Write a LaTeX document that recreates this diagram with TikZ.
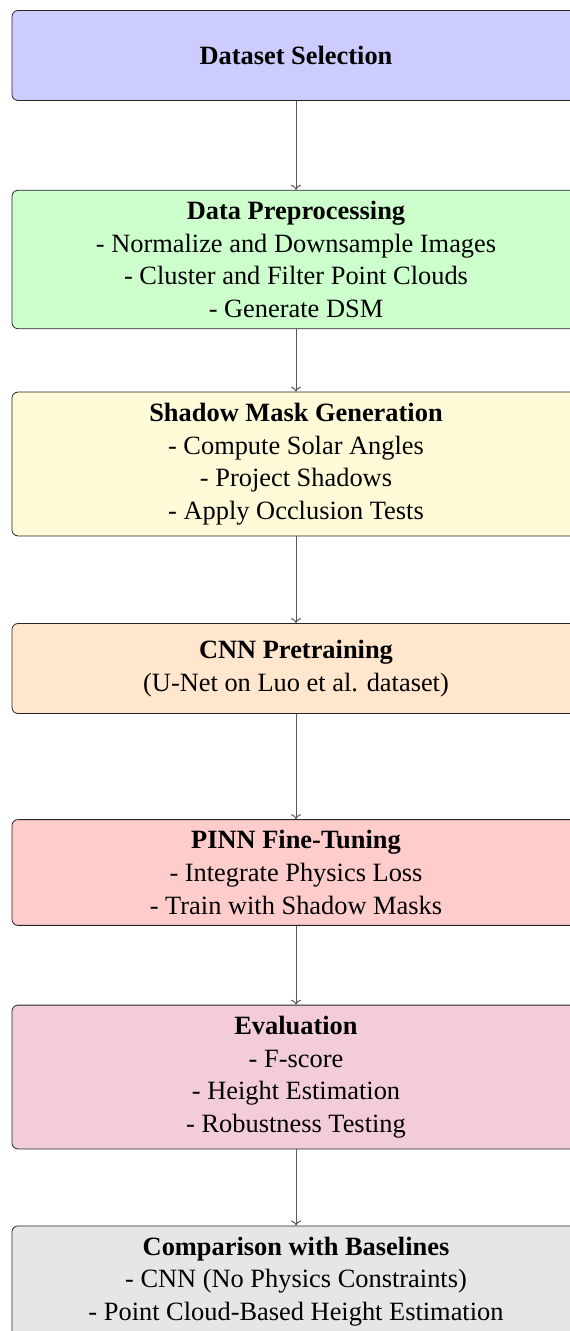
\documentclass[tikz,border=0pt]{standalone}
\usepackage{fontspec}
\setmainfont{Liberation Serif}
\usetikzlibrary{arrows.meta}
\definecolor{cBlue}{RGB}{204,204,255}
\definecolor{cGreen}{RGB}{204,255,204}
\definecolor{cYellow}{RGB}{255,250,216}
\definecolor{cOrange}{RGB}{255,230,204}
\definecolor{cRed}{RGB}{255,204,204}
\definecolor{cPurple}{RGB}{242,204,217}
\definecolor{cGray}{RGB}{230,230,230}
\definecolor{lineGray}{RGB}{90,90,90}
\tikzset{
  stagebox/.style={draw=black!85, rounded corners=3pt, rectangle, minimum width=284pt,
    align=center, font=\fontsize{13.2pt}{16.3pt}\selectfont, minimum height=45pt, inner sep=5.5pt},
  flowarrow/.style={draw=lineGray, -{To[length=2.5pt,width=5pt]}, line width=0.5pt}
}
\begin{document}
\begin{tikzpicture}[x=0.5pt,y=-0.5pt]
\useasboundingbox (0,0) rectangle (569,1331);
\node[stagebox, fill=cBlue] (ds) at (296,55.5) {\textbf{Dataset Selection}};
\node[stagebox, fill=cGreen] (dp) at (296,259.5) {\textbf{Data Preprocessing}\\- Normalize and Downsample Images\\- Cluster and Filter Point Clouds\\- Generate DSM};
\node[stagebox, fill=cYellow] (sm) at (296,464) {\textbf{Shadow Mask Generation}\\- Compute Solar Angles\\- Project Shadows\\- Apply Occlusion Tests};
\node[stagebox, fill=cOrange] (cnn) at (296,668.5) {\textbf{CNN Pretraining}\\(U-Net on Luo et al. dataset)};
\node[stagebox, fill=cRed] (pinn) at (296,872.5) {\textbf{PINN Fine-Tuning}\\- Integrate Physics Loss\\- Train with Shadow Masks};
\node[stagebox, fill=cPurple] (ev) at (296,1077) {\textbf{Evaluation}\\- F-score\\- Height Estimation\\- Robustness Testing};
\node[stagebox, fill=cGray] (cmp) at (296,1281.5) {\textbf{Comparison with Baselines}\\- CNN (No Physics Constraints)\\- Point Cloud-Based Height Estimation};
\draw[flowarrow] (ds) -- (dp);
\draw[flowarrow] (dp) -- (sm);
\draw[flowarrow] (sm) -- (cnn);
\draw[flowarrow] (cnn) -- (pinn);
\draw[flowarrow] (pinn) -- (ev);
\draw[flowarrow] (ev) -- (cmp);
\end{tikzpicture}
\end{document}
